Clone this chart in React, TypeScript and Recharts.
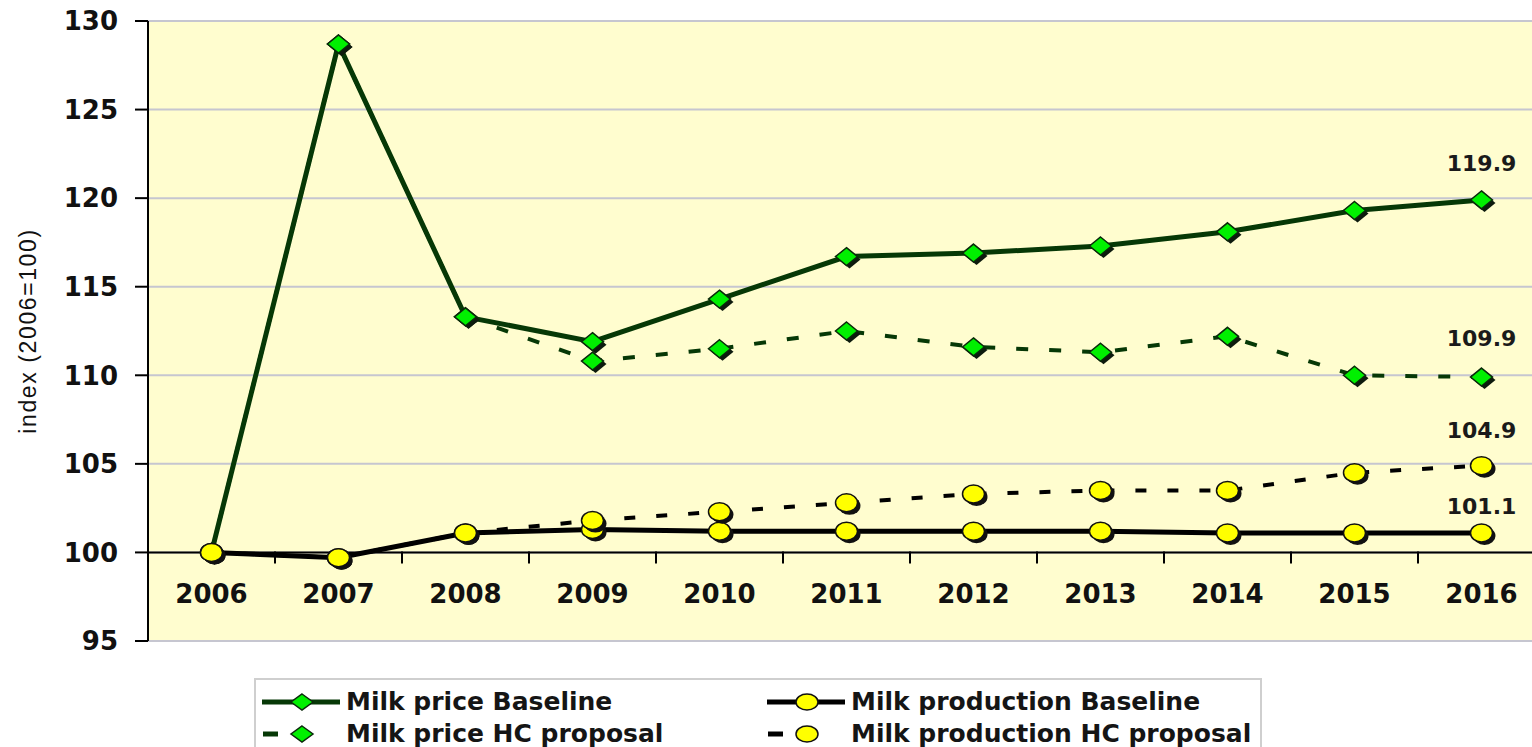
import React from 'react';
import { LineChart, Line, XAxis, YAxis, CartesianGrid, ReferenceLine, Legend } from 'recharts';

const years = ['2006', '2007', '2008', '2009', '2010', '2011', '2012', '2013', '2014', '2015', '2016'];
const milkPriceBaseline = [100, 128.7, 113.3, 111.9, 114.3, 116.7, 116.9, 117.3, 118.1, 119.3, 119.9];
const milkPriceHC = [100, 128.7, 113.3, 110.8, 111.5, 112.5, 111.6, 111.3, 112.2, 110.0, 109.9];
const milkProdBaseline = [100, 99.7, 101.1, 101.3, 101.2, 101.2, 101.2, 101.2, 101.1, 101.1, 101.1];
const milkProdHC = [100, 99.7, 101.1, 101.8, 102.3, 102.8, 103.3, 103.5, 103.5, 104.5, 104.9];
const yTicks = [95, 100, 105, 110, 115, 120, 125, 130];
const yDomain: [number, number] = [95, 130];
const xAxisCross = 100;
const seriesNames = ['Milk price Baseline', 'Milk price HC proposal', 'Milk production Baseline', 'Milk production HC proposal'];

const data = years.map((y, i) => ({
  year: y,
  priceBase: milkPriceBaseline[i],
  priceHC: milkPriceHC[i],
  prodBase: milkProdBaseline[i],
  prodHC: milkProdHC[i],
}));

const CHART_W = 1560;
const CHART_H = 747;
const X_AXIS_H = 1;
const MARGIN = { top: 21, right: 15, bottom: 105, left: 0 };
const PLOT_H = CHART_H - MARGIN.top - MARGIN.bottom - X_AXIS_H;
const Y_CROSS_FROM_BOTTOM = ((xAxisCross - yDomain[0]) / (yDomain[1] - yDomain[0])) * PLOT_H;

const DARK_GREEN = '#063806';
const BRIGHT_GREEN = '#00F000';
const YELLOW = '#FFFF00';
const FONT = '"DejaVu Sans", Arial, sans-serif';

const Diamond = ({ cx, cy, hw = 11, hh = 9 }: any) => {
  if (cx == null || cy == null) return null;
  const pts = (dx: number, dy: number) =>
    `${cx + dx},${cy + dy - hh} ${cx + dx + hw},${cy + dy} ${cx + dx},${cy + dy + hh} ${cx + dx - hw},${cy + dy}`;
  return (
    <g>
      <polygon points={pts(3, 3)} fill="#0d1a0d" />
      <polygon points={pts(0, 0)} fill={BRIGHT_GREEN} stroke="#0a2a0a" strokeWidth={1.5} />
    </g>
  );
};

const Ellipse = ({ cx, cy, rx = 11, ry = 9 }: any) => {
  if (cx == null || cy == null) return null;
  return (
    <g>
      <ellipse cx={cx + 3} cy={cy + 3} rx={rx} ry={ry} fill="#111" />
      <ellipse cx={cx} cy={cy} rx={rx} ry={ry} fill={YELLOW} stroke="#111" strokeWidth={1.5} />
    </g>
  );
};

const makeDot = (kind: 'diamond' | 'ellipse') => (props: any) => {
  const { cx, cy, index } = props;
  return kind === 'diamond' ? (
    <Diamond key={`d-${index}`} cx={cx} cy={cy} />
  ) : (
    <Ellipse key={`e-${index}`} cx={cx} cy={cy} />
  );
};

const makeEndLabel = (offset: number) => (props: any) => {
  const { x, y, value, index } = props;
  if (index !== years.length - 1) return null;
  return (
    <text
      key={`lbl-${index}`}
      x={x}
      y={y - offset}
      textAnchor="middle"
      fontFamily={FONT}
      fontWeight="bold"
      fontSize={22}
      fill="#1a1a1a"
    >
      {Number(value).toFixed(1)}
    </text>
  );
};

const XTick = (props: any) => {
  const { x, y, payload, index } = props;
  const half = payload && payload.offset ? payload.offset : 63.5;
  const yCross = y - X_AXIS_H - Y_CROSS_FROM_BOTTOM;
  return (
    <g>
      {index < years.length - 1 && (
        <line x1={x + half} x2={x + half} y1={yCross} y2={yCross + 12} stroke="#000" strokeWidth={2} />
      )}
      <text
        x={x}
        y={y - 47}
        textAnchor="middle"
        dominantBaseline="central"
        fontFamily={FONT}
        fontWeight="bold"
        fontSize={26}
        fill="#111"
      >
        {payload.value}
      </text>
    </g>
  );
};

const YLabel = (props: any) => {
  const vb = props.viewBox || { x: 0, y: MARGIN.top, width: 148, height: PLOT_H };
  const cx = vb.x + 28;
  const cy = vb.y + vb.height / 2;
  return (
    <text
      x={cx}
      y={cy}
      transform={`rotate(-90, ${cx}, ${cy})`}
      textAnchor="middle"
      dominantBaseline="central"
      fontFamily='"Liberation Sans", Arial, sans-serif'
      fontSize={23}
      letterSpacing={1.6}
      fill="#111"
    >
      index (2006=100)
    </text>
  );
};

const LegendIcon = ({ kind, dashed, color }: any) => (
  <svg width={84} height={28} style={{ display: 'block', flex: 'none' }}>
    {dashed ? (
      <line x1={1} x2={16} y1={14} y2={14} stroke={color} strokeWidth={5} />
    ) : (
      <line x1={0} x2={78} y1={14} y2={14} stroke={color} strokeWidth={5} />
    )}
    {kind === 'diamond' ? (
      <polygon points="40,6 51,14 40,22 29,14" fill={BRIGHT_GREEN} stroke="#0a2a0a" strokeWidth={1.5} />
    ) : (
      <ellipse cx={40} cy={14} rx={11} ry={8} fill={YELLOW} stroke="#111" strokeWidth={1.5} />
    )}
  </svg>
);

const legendItems = [
  { name: seriesNames[0], kind: 'diamond', dashed: false, color: DARK_GREEN, col: 0, row: 0 },
  { name: seriesNames[1], kind: 'diamond', dashed: true, color: DARK_GREEN, col: 0, row: 1 },
  { name: seriesNames[2], kind: 'ellipse', dashed: false, color: '#000', col: 1, row: 0 },
  { name: seriesNames[3], kind: 'ellipse', dashed: true, color: '#000', col: 1, row: 1 },
];

const renderLegend = () => (
  <div
    style={{
      position: 'relative',
      width: 1008,
      height: 90,
      boxSizing: 'border-box',
      border: '2px solid #cfcfcf',
      background: '#fff',
    }}
  >
    {legendItems.map((it) => (
      <div
        key={it.name}
        style={{
          position: 'absolute',
          left: it.col === 0 ? 6 : 511,
          top: 6 + it.row * 32,
          height: 32,
          display: 'flex',
          alignItems: 'center',
          whiteSpace: 'nowrap',
        }}
      >
        <LegendIcon kind={it.kind} dashed={it.dashed} color={it.color} />
        <span
          style={{
            fontFamily: FONT,
            fontWeight: 'bold',
            fontSize: 25,
            lineHeight: '32px',
            color: '#151515',
          }}
        >
          {it.name}
        </span>
      </div>
    ))}
  </div>
);

export default function App() {
  return (
    <div
      style={{
        position: 'absolute',
        left: 0,
        top: 0,
        width: 1532,
        height: 747,
        overflow: 'hidden',
        background: '#fff',
      }}
    >
      <LineChart width={CHART_W} height={CHART_H} data={data} margin={MARGIN}>
        <CartesianGrid
          horizontal
          vertical={false}
          stroke="#c6c6d0"
          strokeWidth={2}
          fill="#FFFDCF"
          fillOpacity={1}
        />
        <XAxis
          dataKey="year"
          scale="band"
          height={X_AXIS_H}
          axisLine={false}
          tickLine={false}
          tickSize={0}
          tickMargin={0}
          interval={0}
          tick={<XTick />}
        />
        <YAxis
          width={148}
          domain={yDomain}
          ticks={yTicks}
          interval={0}
          allowDataOverflow
          axisLine={{ stroke: '#000', strokeWidth: 2 }}
          tickLine={{ stroke: '#000', strokeWidth: 2 }}
          tickSize={13}
          tickMargin={17}
          tick={{ fontFamily: FONT, fontWeight: 'bold', fontSize: 26, fill: '#111' }}
          label={<YLabel />}
        />
        <ReferenceLine y={xAxisCross} stroke="#000" strokeWidth={2} ifOverflow="extendDomain" />
        <Legend
          layout="vertical"
          align="center"
          verticalAlign="middle"
          content={renderLegend}
          wrapperStyle={{ left: 254, top: 678, width: 1008, height: 90, margin: 0 }}
        />
        <Line
          name={seriesNames[0]}
          dataKey="priceBase"
          type="linear"
          stroke={DARK_GREEN}
          strokeWidth={5}
          dot={makeDot('diamond')}
          activeDot={false}
          isAnimationActive={false}
          label={makeEndLabel(29)}
        />
        <Line
          name={seriesNames[1]}
          dataKey="priceHC"
          type="linear"
          stroke={DARK_GREEN}
          strokeWidth={4}
          strokeDasharray="12 21"
          dot={makeDot('diamond')}
          activeDot={false}
          isAnimationActive={false}
          label={makeEndLabel(31)}
        />
        <Line
          name={seriesNames[2]}
          dataKey="prodBase"
          type="linear"
          stroke="#000"
          strokeWidth={5}
          dot={makeDot('ellipse')}
          activeDot={false}
          isAnimationActive={false}
          label={makeEndLabel(19)}
        />
        <Line
          name={seriesNames[3]}
          dataKey="prodHC"
          type="linear"
          stroke="#000"
          strokeWidth={4}
          strokeDasharray="11 21"
          dot={makeDot('ellipse')}
          activeDot={false}
          isAnimationActive={false}
          label={makeEndLabel(28)}
        />
      </LineChart>
    </div>
  );
}
